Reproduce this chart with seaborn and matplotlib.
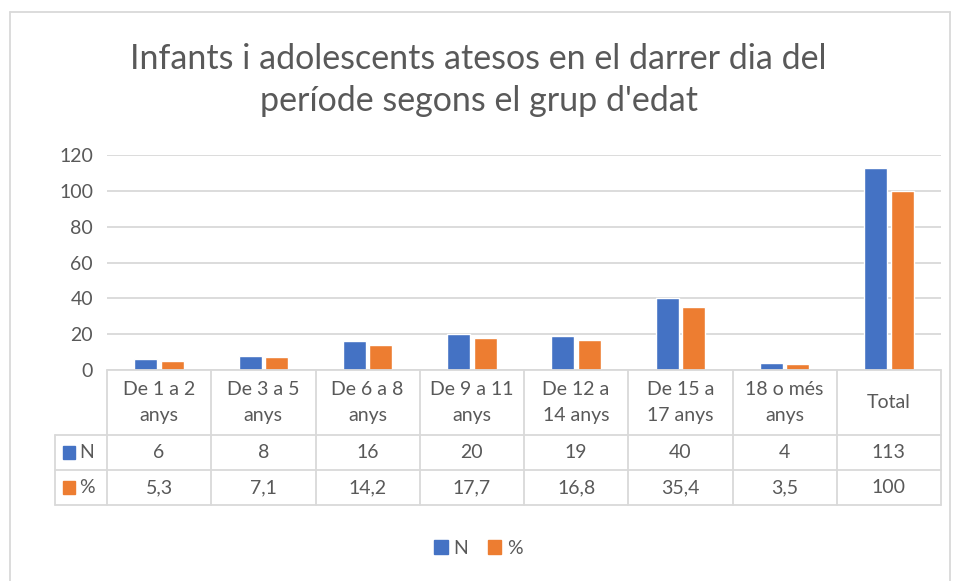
# Infants i adolescents atesos - grouped bars with data table below
import pandas as pd
import numpy as np
import matplotlib.pyplot as plt
import seaborn as sns
from matplotlib.patches import Rectangle
from matplotlib.lines import Line2D

# data
groups = ["De 1 a 2\nanys", "De 3 a 5\nanys", "De 6 a 8\nanys", "De 9 a 11\nanys",
          "De 12 a\n14 anys", "De 15 a\n17 anys", "18 o més\nanys", "Total"]
n_values = [6, 8, 16, 20, 19, 40, 4, 113]
pct_values = [5.3, 7.1, 14.2, 17.7, 16.8, 35.4, 3.5, 100]
series = ["N", "%"]
colors = ["#4472C4", "#ED7D31"]

df = pd.DataFrame({
    "grup": groups * 2,
    "serie": ["N"] * len(groups) + ["%"] * len(groups),
    "valor": n_values + pct_values,
})

sns.set_style("white")
plt.rcParams['font.family'] = ['Lato', 'DejaVu Sans']
txt = "#595959"
line_c = "#D9D9D9"

fig = plt.figure(figsize=(9.57, 5.81), dpi=100)
W, H = 957, 581
ax = fig.add_axes([107 / W, 1 - 370 / H, 834 / W, 215 / H])

sns.barplot(data=df, x="grup", y="valor", hue="serie", hue_order=series,
            palette=colors, width=0.51, gap=0.13, ax=ax, saturation=1, legend=False)

ax.set_xlim(-0.5, len(groups) - 0.5)
ax.set_ylim(0, 120)
ax.set_yticks(range(0, 121, 20))
ax.yaxis.grid(True, color=line_c, linewidth=1.3)
ax.set_axisbelow(True)
ax.tick_params(axis="y", length=0, pad=10, labelsize=14, labelcolor=txt)
ax.set_xticks([])
ax.set_xlabel("")
ax.set_ylabel("")
for s in ax.spines.values():
    s.set_visible(False)

# data table under the axis (axes coordinates)
tr = ax.transAxes
y_cat = -65 / 215
y_n = -100 / 215
y_p = -135 / 215
x_lab = -52 / 834
kw = dict(transform=tr, color=line_c, linewidth=1.3, clip_on=False)
ax.add_line(Line2D([0, 1], [0, 0], **kw))
for yy in [y_cat, y_n, y_p]:
    ax.add_line(Line2D([x_lab, 1], [yy, yy], **kw))
for i in range(len(groups) + 1):
    xx = i / len(groups)
    ax.add_line(Line2D([xx, xx], [0, y_p], **kw))
ax.add_line(Line2D([x_lab, x_lab], [y_cat, y_p], **kw))

fmt = lambda v: f"{v:g}".replace(".", ",")
for i, g in enumerate(groups):
    xc = (i + 0.5) / len(groups)
    ax.text(xc, y_cat / 2, g, transform=tr, ha="center", va="center",
            fontsize=14, color=txt, linespacing=1.6)
    ax.text(xc, (y_cat + y_n) / 2, fmt(n_values[i]), transform=tr,
            ha="center", va="center", fontsize=14, color=txt)
    ax.text(xc, (y_n + y_p) / 2, fmt(pct_values[i]), transform=tr,
            ha="center", va="center", fontsize=14, color=txt)

for name, col, y0, y1 in [("N", colors[0], y_cat, y_n), ("%", colors[1], y_n, y_p)]:
    yc = (y0 + y1) / 2
    ax.add_patch(Rectangle((-44 / 834, yc - 6.5 / 215), 12 / 834, 13 / 215,
                           transform=tr, color=col, clip_on=False))
    ax.text(-28 / 834, yc, name, transform=tr, ha="left", va="center",
            fontsize=14, color=txt)

# title
fig.text(0.5, 1 - 80 / H, "Infants i adolescents atesos en el darrer dia del\nperíode segons el grup d'edat",
         ha="center", va="center", fontsize=24.5, color=txt, linespacing=1.35)

# legend
handles = [Rectangle((0, 0), 1, 1, color=c) for c in colors]
fig.legend(handles, series, loc="center", bbox_to_anchor=(0.5, 1 - 548 / H),
           ncol=2, frameon=False, fontsize=14, labelcolor=txt,
           handlelength=0.7, handleheight=0.7, handletextpad=0.3, columnspacing=1.0)

# chart area border
bk = dict(color=line_c, linewidth=1.3, transform=fig.transFigure)
fig.add_artist(Line2D([10 / W, 10 / W], [0, 1 - 12 / H], **bk))
fig.add_artist(Line2D([10 / W, 950 / W], [1 - 12 / H, 1 - 12 / H], **bk))
fig.add_artist(Line2D([950 / W, 950 / W], [0, 1 - 12 / H], **bk))

fig.savefig("out.png", dpi=100)
